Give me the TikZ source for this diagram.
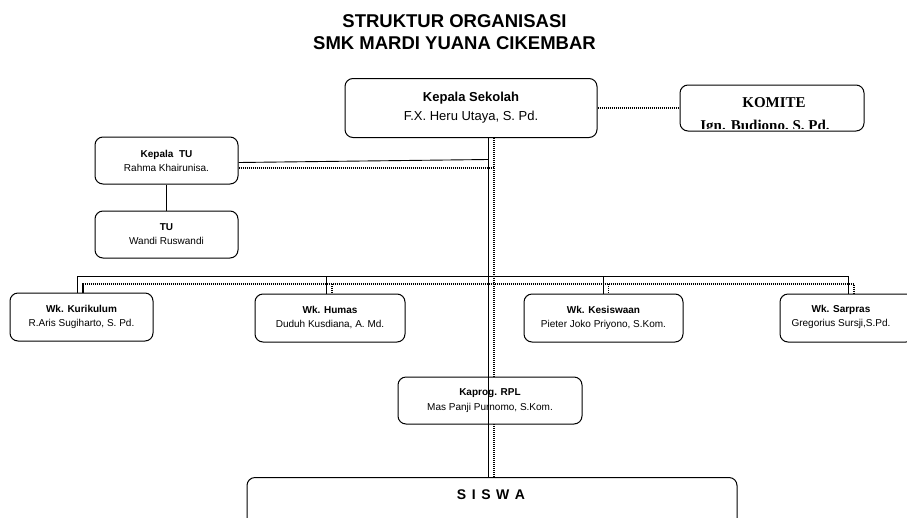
\documentclass[tikz,border=0pt]{standalone}
\usepackage{fontspec}
\setmainfont{Liberation Sans}
\newfontfamily\timesf{Liberation Serif}
\usetikzlibrary{calc,backgrounds}
\begin{document}
\begin{tikzpicture}[x=1pt,y=-1pt,
  box/.style={draw, line width=1pt, rounded corners=8pt, fill=white, align=center, inner sep=0pt},
  solidline/.style={line width=0.9pt},
  dotline/.style={line width=1.8pt, dash pattern=on 1.1pt off 0.9pt},
  small/.style={font=\fontsize{10}{14}\selectfont},
  titlefont/.style={font=\bfseries\fontsize{18.5}{22}\selectfont, anchor=base, inner sep=0pt},
  komfont/.style={font=\timesf\bfseries\fontsize{15}{15}\selectfont, anchor=base, inner sep=0pt}
]
\useasboundingbox (0,0) rectangle (907,517);
\clip (0,0) rectangle (907,517);

% title
\node[titlefont] (t1) at (454.5,27) {STRUKTUR ORGANISASI};
\node[titlefont] (t2) at (454.5,49) {SMK MARDI YUANA CIKEMBAR};

% boxes
\node[box, minimum width=252pt, minimum height=59pt, font=\fontsize{13}{19}\selectfont] (ks) at (471,108)
  {\textbf{Kepala Sekolah}\\F.X. Heru Utaya, S. Pd.};
\node[box, minimum width=184pt, minimum height=46pt] (kom) at (772,108) {};
\begin{scope}
  \clip[rounded corners=7pt] ($(kom.south west)+(1,-3)$) rectangle ($(kom.north east)+(-1,1)$);
  \node[komfont] (komt) at (774,107.5) {KOMITE};
  \node[komfont] (komn) at (765,130) {Ign. Budiono, S. Pd.};
\end{scope}

\node[box, small, minimum width=143pt, minimum height=47pt] (ktu) at (166.5,160.5)
  {\textbf{Kepala\ \ TU}\\Rahma Khairunisa.};
\node[box, small, minimum width=143pt, minimum height=47pt] (tu) at (166.5,234.5)
  {\textbf{TU}\\Wandi Ruswandi};

\node[box, small, minimum width=143pt, minimum height=48pt] (wk1) at (81.5,317)
  {\textbf{Wk. Kurikulum}\\R.Aris Sugiharto, S. Pd.};
\node[box, small, minimum width=150pt, minimum height=48pt] (wk2) at (330,318)
  {\textbf{Wk. Humas}\\Duduh Kusdiana, A. Md.};
\node[box, small, minimum width=159pt, minimum height=48pt] (wk3) at (603.5,318)
  {\textbf{Wk. Kesiswaan}\\Pieter Joko Priyono, S.Kom.};
\node[box, small, minimum width=134pt, minimum height=48pt] (wk4) at (847,318) {};
\node[small, align=center, inner sep=0pt] (wk4t) at (841,316.5)
  {\textbf{Wk. Sarpras}\\Gregorius Sursji,S.Pd.};

\node[box, font=\fontsize{10}{15}\selectfont, minimum width=184pt, minimum height=47pt] (kap) at (490,400.5)
  {\textbf{Kaprog. RPL}\\Mas Panji Purnomo, S.Kom.};

\node[box, minimum width=490pt, minimum height=90pt, anchor=north] (sis) at (492,477) {};
\node[font=\bfseries\fontsize{14}{14}\selectfont\addfontfeatures{LetterSpace=12}, anchor=base, inner sep=0pt] (sist) at (491,499) {S I S W A};

% coordinates for lines
\coordinate (sx) at (488,0);
\coordinate (dx) at (494,0);
\coordinate (hb) at (0,276);
\coordinate (hd) at (0,284);
\coordinate (s1) at (77,0);   \coordinate (d1) at (83,0);
\coordinate (s2) at (326.5,0);\coordinate (d2) at (332,0);
\coordinate (s3) at (603,0);  \coordinate (d3) at (608.5,0);
\coordinate (s4) at (848,0);  \coordinate (d4) at (854,0);
\coordinate (ty1) at (0,162.5);
\coordinate (ty2) at (0,159.5);
\coordinate (ty3) at (0,167.7);

\begin{scope}[on background layer]
  \fill[white] (0,0) rectangle (907,517);
  % komite
  \draw[dotline] (ks.east) -- (kom.west);
  % dotted spine
  \draw[dotline] (ks.south -| dx) -- (sis.north -| dx);
  % kepala TU
  \draw[solidline] (ktu.east |- ty1) -- (sx |- ty2);
  \draw[dotline] (ktu.east |- ty3) -- (dx |- ty3);
  \draw[solidline] (ktu.south) -- (tu.north);
  % wakil bars
  \draw[solidline] (wk1.north -| s1) -- (s1 |- hb) -- (s4 |- hb) -- (wk4.north -| s4);
  \draw[solidline] (s2 |- hb) -- (wk2.north -| s2);
  \draw[solidline] (s3 |- hb) -- (wk3.north -| s3);
  \draw[dotline] (wk1.north -| d1) -- (d1 |- hd) -- (d4 |- hd) -- (wk4.north -| d4);
  \draw[dotline] (d2 |- hd) -- (wk2.north -| d2);
  \draw[dotline] (d3 |- hd) -- (wk3.north -| d3);
\end{scope}

% solid spine over Kaprog box
\draw[solidline] (ks.south -| sx) -- (sis.north -| sx);
\end{tikzpicture}
\end{document}
